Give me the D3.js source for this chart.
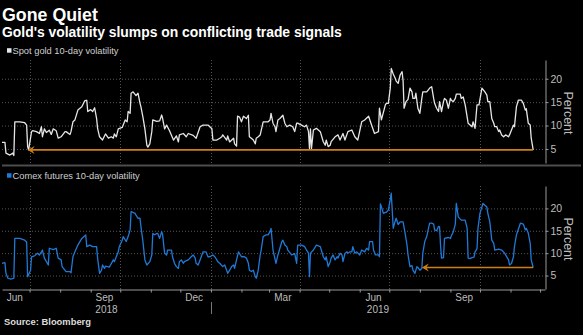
<!DOCTYPE html>
<html><head><meta charset="utf-8">
<script src="https://cdn.jsdelivr.net/npm/d3@7"></script>
<style>body{margin:0;background:#000;}svg{display:block;background:#000;}</style>
</head><body><svg id="chart" width="583" height="335"></svg>
<script>
const title = "Gone Quiet";
const subtitle = "Gold's volatility slumps on conflicting trade signals";
const source = "Source: Bloomberg";
const spotName = "Spot gold 10-day volatility";
const comexName = "Comex futures 10-day volatility";
const yTicks = [5, 10, 15, 20];
const monthLabels = ["Jun", "Sep", "Dec", "Mar", "Jun", "Sep"];
const monthLabelDates = ["2018-06-16", "2018-09-15", "2018-12-15", "2019-03-15", "2019-06-15", "2019-09-15"];
const yearLabels = ["2018", "2019"];
const yearStarts = ["2018-06-03", "2019-01-01"];
const yearEnds = ["2019-01-01", "2019-12-06"];
const spotArrowTo = "2018-06-29";
const comexArrowTo = "2019-08-03";

const spotSeries = [
["2018-06-03",6.4],["2018-06-06",6.4],["2018-06-07",4.1],["2018-06-11",3.7],["2018-06-14",4.1],["2018-06-15",3.6],["2018-06-16",10.8],["2018-06-21",10.8],["2018-06-26",10.6],["2018-06-28",10.1],["2018-06-29",5.5],["2018-06-30",4.8],
["2018-07-03",8.7],["2018-07-04",8.9],["2018-07-08",8.7],["2018-07-11",8.3],["2018-07-13",9.75],["2018-07-14",7.6],["2018-07-16",9.3],["2018-07-18",8.5],["2018-07-21",9.0],["2018-07-23",8.1],["2018-07-25",9.3],["2018-07-28",8.9],["2018-07-30",7.3],
["2018-08-02",7.6],["2018-08-06",8.7],["2018-08-07",8.7],["2018-08-11",8.1],["2018-08-12",8.7],["2018-08-14",10.8],["2018-08-16",11.2],["2018-08-19",13.3],["2018-08-23",14.0],["2018-08-26",15.3],["2018-08-28",15.4],["2018-08-29",13.0],
["2018-09-01",13.4],["2018-09-03",13.0],["2018-09-05",13.8],["2018-09-07",11.5],["2018-09-08",9.4],["2018-09-10",7.6],["2018-09-13",6.9],["2018-09-16",8.2],["2018-09-19",7.3],["2018-09-22",7.6],["2018-09-24",7.3],["2018-09-25",8.2],["2018-09-27",7.6],["2018-09-29",9.3],
["2018-10-03",9.6],["2018-10-06",11.2],["2018-10-08",10.8],["2018-10-09",13.0],["2018-10-11",12.6],["2018-10-12",16.9],["2018-10-14",17.2],["2018-10-17",16.4],["2018-10-19",16.9],["2018-10-21",14.8],["2018-10-22",14.0],["2018-10-24",11.8],["2018-10-26",9.3],["2018-10-28",5.8],["2018-10-29",5.4],["2018-10-31",6.1],
["2018-11-02",8.7],["2018-11-03",11.2],["2018-11-07",10.9],["2018-11-10",11.0],["2018-11-12",12.25],["2018-11-13",11.5],["2018-11-15",9.3],["2018-11-17",10.1],["2018-11-20",8.9],["2018-11-24",6.9],["2018-11-27",7.8],["2018-11-29",6.5],["2018-11-30",8.0],
["2018-12-04",8.3],["2018-12-07",7.6],["2018-12-09",8.3],["2018-12-14",7.9],["2018-12-17",7.3],["2018-12-21",9.75],["2018-12-24",10.1],["2018-12-29",10.1],
["2019-01-02",9.3],["2019-01-03",6.9],["2019-01-07",6.9],["2019-01-10",7.3],["2019-01-12",7.6],["2019-01-13",8.0],["2019-01-17",6.9],["2019-01-18",7.8],["2019-01-20",6.5],["2019-01-24",7.3],["2019-01-25",6.1],["2019-01-27",5.6],["2019-01-28",12.0],["2019-01-30",11.8],
["2019-02-01",10.8],["2019-02-03",12.0],["2019-02-06",11.5],["2019-02-08",12.2],["2019-02-09",7.6],["2019-02-11",7.3],["2019-02-13",6.9],["2019-02-15",6.1],["2019-02-16",7.3],["2019-02-18",7.6],["2019-02-20",8.0],["2019-02-23",10.8],["2019-02-26",10.8],["2019-02-28",10.8],
["2019-03-02",11.2],["2019-03-03",12.6],["2019-03-05",10.5],["2019-03-07",9.75],["2019-03-08",8.7],["2019-03-10",11.2],["2019-03-12",11.5],["2019-03-15",12.2],["2019-03-17",10.5],["2019-03-19",9.75],["2019-03-22",10.1],["2019-03-25",9.75],["2019-03-27",8.7],["2019-03-29",10.5],["2019-03-30",10.5],
["2019-04-03",10.1],["2019-04-06",9.75],["2019-04-08",10.1],["2019-04-10",8.7],["2019-04-11",5.1],["2019-04-12",9.3],["2019-04-13",5.0],["2019-04-15",9.05],["2019-04-18",9.4],["2019-04-22",8.7],["2019-04-25",6.55],["2019-04-27",5.8],["2019-04-28",6.9],["2019-04-30",5.5],
["2019-05-02",5.8],["2019-05-03",6.55],["2019-05-07",7.6],["2019-05-10",8.0],["2019-05-12",6.9],["2019-05-15",8.3],["2019-05-17",6.9],["2019-05-20",8.7],["2019-05-24",9.05],["2019-05-27",7.6],["2019-05-30",6.9],
["2019-06-03",10.8],["2019-06-06",11.2],["2019-06-10",12.0],["2019-06-13",10.1],["2019-06-16",8.3],["2019-06-20",8.7],["2019-06-21",13.7],["2019-06-23",11.2],["2019-06-27",14.4],["2019-06-28",14.75],["2019-06-30",14.75],
["2019-07-02",18.0],["2019-07-03",22.2],["2019-07-05",21.0],["2019-07-07",20.1],["2019-07-08",19.5],["2019-07-10",19.0],["2019-07-12",20.8],["2019-07-14",21.5],["2019-07-15",19.5],["2019-07-16",13.7],["2019-07-18",15.1],["2019-07-20",15.6],["2019-07-22",18.0],["2019-07-24",17.2],["2019-07-25",15.8],["2019-07-27",15.8],["2019-07-28",16.9],["2019-07-30",13.7],
["2019-08-01",12.6],["2019-08-03",15.8],["2019-08-04",17.2],["2019-08-08",17.2],["2019-08-11",18.0],["2019-08-13",18.3],["2019-08-15",15.8],["2019-08-16",14.75],["2019-08-18",13.7],["2019-08-20",13.0],["2019-08-21",15.1],["2019-08-23",13.0],["2019-08-25",15.1],["2019-08-26",15.8],["2019-08-28",15.4],["2019-08-30",13.7],
["2019-09-01",15.8],["2019-09-02",15.4],["2019-09-04",15.1],["2019-09-06",15.8],["2019-09-07",16.7],["2019-09-11",16.7],["2019-09-12",15.8],["2019-09-14",16.1],["2019-09-16",14.4],["2019-09-19",10.5],["2019-09-23",9.75],["2019-09-24",10.8],["2019-09-26",9.4],["2019-09-28",14.4],["2019-09-30",14.4],
["2019-10-03",18.0],["2019-10-06",17.2],["2019-10-08",16.5],["2019-10-09",15.1],["2019-10-11",15.1],["2019-10-13",11.5],["2019-10-15",10.5],["2019-10-16",9.75],["2019-10-18",9.75],["2019-10-20",8.7],["2019-10-21",9.05],["2019-10-23",8.0],["2019-10-25",7.6],["2019-10-27",8.0],["2019-10-30",7.6],["2019-10-31",8.0],
["2019-11-02",9.05],["2019-11-04",10.1],["2019-11-05",9.75],["2019-11-07",14.0],["2019-11-09",15.45],["2019-11-12",15.45],["2019-11-14",14.75],["2019-11-16",13.3],["2019-11-17",13.6],["2019-11-19",10.5],["2019-11-21",10.1],["2019-11-22",7.3],["2019-11-24",4.8]
];

const comexSeries = [
["2018-06-03",7.74],["2018-06-06",7.9],["2018-06-07",5.5],["2018-06-09",4.4],["2018-06-12",4.2],["2018-06-15",4.4],["2018-06-16",13.3],["2018-06-21",13.3],["2018-06-26",12.9],["2018-06-28",12.5],["2018-06-29",4.75],
["2018-07-02",6.2],["2018-07-03",9.2],["2018-07-06",9.4],["2018-07-09",10.0],["2018-07-11",9.6],["2018-07-13",10.3],["2018-07-14",10.7],["2018-07-16",8.9],["2018-07-20",7.36],["2018-07-21",11.1],["2018-07-25",10.8],["2018-07-28",11.1],["2018-07-30",8.9],
["2018-08-02",8.5],["2018-08-03",7.0],["2018-08-07",5.9],["2018-08-11",5.9],["2018-08-12",5.6],["2018-08-14",9.2],["2018-08-16",10.3],["2018-08-19",11.8],["2018-08-23",13.3],["2018-08-27",14.06],["2018-08-28",11.45],["2018-08-31",11.8],
["2018-09-03",11.45],["2018-09-07",11.45],["2018-09-08",8.9],["2018-09-10",5.5],["2018-09-12",6.2],["2018-09-13",7.36],["2018-09-15",6.6],["2018-09-16",7.1],["2018-09-20",6.9],["2018-09-24",8.5],["2018-09-25",8.1],["2018-09-27",9.2],["2018-09-29",10.3],["2018-09-30",11.45],
["2018-10-03",12.9],["2018-10-04",13.7],["2018-10-07",12.6],["2018-10-09",13.7],["2018-10-11",15.2],["2018-10-12",19.3],["2018-10-16",18.9],["2018-10-17",18.5],["2018-10-19",17.8],["2018-10-21",17.8],["2018-10-22",15.9],["2018-10-24",12.6],["2018-10-26",8.5],["2018-10-28",7.36],["2018-10-31",8.1],
["2018-11-02",9.6],["2018-11-03",14.4],["2018-11-05",14.1],["2018-11-07",14.4],["2018-11-08",14.4],["2018-11-10",13.3],["2018-11-12",14.8],["2018-11-13",14.1],["2018-11-15",10.0],["2018-11-17",9.6],["2018-11-18",10.7],["2018-11-22",10.7],["2018-11-23",9.2],["2018-11-25",7.74],["2018-11-27",7.0],["2018-11-29",6.6],["2018-11-30",8.1],
["2018-12-02",8.5],["2018-12-04",7.74],["2018-12-05",8.1],["2018-12-09",8.5],["2018-12-12",9.2],["2018-12-14",9.6],["2018-12-16",8.9],["2018-12-17",7.74],["2018-12-19",7.36],["2018-12-21",8.5],["2018-12-24",10.3],["2018-12-27",10.3],["2018-12-29",9.2],["2018-12-31",9.2],
["2019-01-03",9.6],["2019-01-05",9.2],["2019-01-08",8.1],["2019-01-10",7.74],["2019-01-13",7.0],["2019-01-15",7.36],["2019-01-17",6.2],["2019-01-18",5.5],["2019-01-20",6.2],["2019-01-22",7.0],["2019-01-24",7.36],["2019-01-25",6.6],["2019-01-27",8.5],["2019-01-29",10.3],
["2019-02-01",9.2],["2019-02-04",9.2],["2019-02-06",8.9],["2019-02-08",7.74],["2019-02-09",6.2],["2019-02-11",5.9],["2019-02-13",6.2],["2019-02-15",4.75],["2019-02-16",4.4],["2019-02-18",6.2],["2019-02-20",9.6],["2019-02-21",10.7],["2019-02-23",13.7],["2019-02-26",14.1],["2019-02-28",14.1],
["2019-03-02",14.8],["2019-03-03",15.55],["2019-03-05",10.7],["2019-03-08",7.74],["2019-03-10",9.6],["2019-03-14",12.6],["2019-03-15",12.9],["2019-03-17",11.8],["2019-03-19",11.45],["2019-03-20",10.7],["2019-03-24",9.6],["2019-03-27",9.9],["2019-03-29",7.74],["2019-03-30",11.8],
["2019-04-03",11.8],["2019-04-06",11.45],["2019-04-08",10.7],["2019-04-10",10.0],["2019-04-11",4.75],["2019-04-12",10.0],["2019-04-15",10.7],["2019-04-18",11.8],["2019-04-22",11.45],["2019-04-23",10.7],["2019-04-25",9.2],["2019-04-27",8.5],["2019-04-28",9.2],["2019-04-30",7.0],
["2019-05-02",8.1],["2019-05-03",8.9],["2019-05-05",9.6],["2019-05-07",8.5],["2019-05-09",9.2],["2019-05-10",8.9],["2019-05-12",10.0],["2019-05-14",9.6],["2019-05-15",8.1],["2019-05-17",9.9],["2019-05-19",10.3],["2019-05-20",10.0],["2019-05-22",10.3],["2019-05-24",10.3],["2019-05-25",11.45],["2019-05-27",10.0],["2019-05-29",10.3],
["2019-06-01",9.6],["2019-06-03",10.7],["2019-06-06",10.3],["2019-06-08",11.1],["2019-06-10",10.7],["2019-06-11",12.6],["2019-06-14",12.6],["2019-06-15",10.7],["2019-06-17",9.6],["2019-06-20",9.6],["2019-06-21",9.2],["2019-06-22",21.0],["2019-06-25",18.9],["2019-06-27",19.1],["2019-06-28",19.1],["2019-06-30",19.6],
["2019-07-02",22.0],["2019-07-03",23.4],["2019-07-05",15.55],["2019-07-07",17.2],["2019-07-08",17.8],["2019-07-10",16.4],["2019-07-12",17.0],["2019-07-15",17.0],["2019-07-17",14.5],["2019-07-19",11.8],["2019-07-20",9.6],["2019-07-22",7.0],["2019-07-24",7.2],["2019-07-25",6.2],["2019-07-27",5.5],["2019-07-29",7.0],["2019-07-30",6.8],
["2019-08-01",6.2],["2019-08-03",6.6],["2019-08-04",10.0],["2019-08-06",12.6],["2019-08-08",13.7],["2019-08-10",15.8],["2019-08-11",16.7],["2019-08-13",16.7],["2019-08-15",16.5],["2019-08-16",15.2],["2019-08-18",15.0],["2019-08-20",16.0],["2019-08-21",15.9],["2019-08-22",11.8],["2019-08-23",8.9],["2019-08-25",9.0],["2019-08-26",13.3],["2019-08-30",13.5],
["2019-09-01",13.3],["2019-09-02",13.9],["2019-09-04",14.8],["2019-09-06",16.5],["2019-09-07",21.1],["2019-09-09",18.1],["2019-09-11",17.6],["2019-09-12",17.4],["2019-09-16",17.4],["2019-09-18",15.55],["2019-09-19",8.9],["2019-09-21",8.8],["2019-09-23",9.0],["2019-09-25",9.1],["2019-09-26",10.3],["2019-09-28",11.0],["2019-09-29",15.55],
["2019-10-01",18.9],["2019-10-04",21.1],["2019-10-08",20.3],["2019-10-09",18.9],["2019-10-11",17.0],["2019-10-13",12.9],["2019-10-15",12.2],["2019-10-16",10.7],["2019-10-20",10.9],["2019-10-23",10.7],["2019-10-26",10.0],["2019-10-30",8.5],["2019-10-31",7.36],
["2019-11-02",7.7],["2019-11-04",9.2],["2019-11-05",11.45],["2019-11-07",14.06],["2019-11-11",16.7],["2019-11-14",16.5],["2019-11-16",15.2],["2019-11-17",15.55],["2019-11-19",14.5],["2019-11-21",12.2],["2019-11-22",8.5],["2019-11-24",6.8]
];

const parse = d3.utcParse("%Y-%m-%d");
const svg = d3.select("#chart");
const FONT = "'Liberation Sans', Arial, sans-serif";
const grid = "#555";
const axisTxt = "#bdbdbd";
const orange = "#cf7f12";

const x = d3.scaleUtc().domain([parse(yearStarts[0]), parse(yearEnds[1])]).range([2, 545]);

// titles
svg.append("text").attr("x", 2).attr("y", 20.5).attr("fill", "#fff")
  .attr("font-family", FONT).attr("font-weight", "bold").attr("font-size", 17.8).text(title);
svg.append("text").attr("x", 2).attr("y", 37).attr("fill", "#fff")
  .attr("font-family", FONT).attr("font-weight", "bold").attr("font-size", 13.9).text(subtitle);

const panels = [
  {series: spotSeries, name: spotName, color: "#e6e6e6", arrowTo: spotArrowTo,
   y: d3.scaleLinear().domain([2, 24]).range([163, 60]), legendY: 53.5},
  {series: comexSeries, name: comexName, color: "#2079d6", arrowTo: comexArrowTo,
   y: d3.scaleLinear().domain([2, 25]).range([289, 186]), legendY: 178.5}
];

const quarters = d3.utcMonth.every(3).range(x.domain()[0], x.domain()[1]);

panels.forEach(p => {
  const y = p.y;
  const [yb, yt] = y.range();
  const g = svg.append("g");
  // legend
  g.append("rect").attr("x", 7).attr("y", p.legendY - 5.3).attr("width", 4.5).attr("height", 4.5).attr("fill", p.color);
  g.append("text").attr("x", 12.5).attr("y", p.legendY).attr("fill", "#cfcfcf")
    .attr("font-family", FONT).attr("font-size", 9.3).text(p.name);
  // horizontal grid
  g.selectAll(".hg").data(yTicks).join("line")
    .attr("x1", 2).attr("x2", 545).attr("y1", d => y(d) + 0.5).attr("y2", d => y(d) + 0.5)
    .attr("stroke", grid).attr("stroke-width", 1).attr("stroke-dasharray", "1,2");
  // vertical grid
  g.selectAll(".vg").data(quarters).join("line")
    .attr("x1", d => Math.round(x(d)) + 0.5).attr("x2", d => Math.round(x(d)) + 0.5)
    .attr("y1", yt).attr("y2", yb)
    .attr("stroke", grid).attr("stroke-width", 1).attr("stroke-dasharray", "1,2");
  // right axis
  const ax = g.append("g").attr("transform", "translate(545.5,0)")
    .call(d3.axisRight(y).tickValues(yTicks).tickSize(3).tickSizeOuter(0).tickPadding(2));
  ax.select(".domain").attr("stroke", "#9a9a9a");
  ax.selectAll(".tick line").attr("stroke", "#9a9a9a");
  ax.selectAll(".tick text").attr("fill", axisTxt).attr("font-family", FONT).attr("font-size", 10.5);
  g.append("text").attr("transform", `translate(563.5,${(yt + yb) / 2 + 1.5}) rotate(90)`)
    .attr("text-anchor", "middle").attr("fill", axisTxt).attr("font-family", FONT).attr("font-size", 12.5)
    .text("Percent");
  // series line
  const data = p.series.map(d => ({date: parse(d[0]), value: d[1]}));
  g.append("path").datum(data)
    .attr("fill", "none").attr("stroke", p.color).attr("stroke-width", 1.3).attr("stroke-linejoin", "round")
    .attr("d", d3.line().x(d => x(d.date)).y(d => y(d.value)));
  // arrow
  const last = data[data.length - 1];
  const ay = y(last.value);
  const x0 = x(parse(p.arrowTo)), x1 = x(last.date);
  g.append("line").attr("x1", x1).attr("x2", x0 + 3).attr("y1", ay).attr("y2", ay)
    .attr("stroke", orange).attr("stroke-width", 1.6);
  g.append("path").attr("d", `M${x0},${ay}L${x0 + 7},${ay - 4}L${x0 + 4.5},${ay}L${x0 + 7},${ay + 4}Z`)
    .attr("fill", orange);
});

// separator below top panel
svg.append("line").attr("x1", 2).attr("x2", 581).attr("y1", 165.5).attr("y2", 165.5)
  .attr("stroke", "#4d4d4d").attr("stroke-width", 2);

// bottom time axis
const xa = svg.append("g").attr("transform", "translate(0,289.5)")
  .call(d3.axisBottom(x).ticks(d3.utcMonth.every(1)).tickSize(3).tickSizeOuter(0).tickFormat(""));
xa.select(".domain").attr("stroke", "#9a9a9a");
xa.selectAll(".tick line").attr("stroke", "#9a9a9a");

svg.selectAll(".mlab").data(monthLabels).join("text")
  .attr("x", (d, i) => x(parse(monthLabelDates[i]))).attr("y", 300.5)
  .attr("text-anchor", "middle").attr("fill", axisTxt).attr("font-family", FONT).attr("font-size", 10)
  .text(d => d);
svg.selectAll(".ylab").data(yearLabels).join("text")
  .attr("x", (d, i) => (x(parse(yearStarts[i])) + x(parse(yearEnds[i]))) / 2).attr("y", 312.5)
  .attr("text-anchor", "middle").attr("fill", axisTxt).attr("font-family", FONT).attr("font-size", 10)
  .text(d => d);
const yb = Math.round(x(parse(yearStarts[1]))) + 0.5;
svg.append("line").attr("x1", yb).attr("x2", yb).attr("y1", 302).attr("y2", 314)
  .attr("stroke", "#777").attr("stroke-width", 1);

svg.append("text").attr("x", 4).attr("y", 324.5).attr("fill", "#ddd")
  .attr("font-family", FONT).attr("font-weight", "bold").attr("font-size", 9.4).text(source);
</script></body></html>
